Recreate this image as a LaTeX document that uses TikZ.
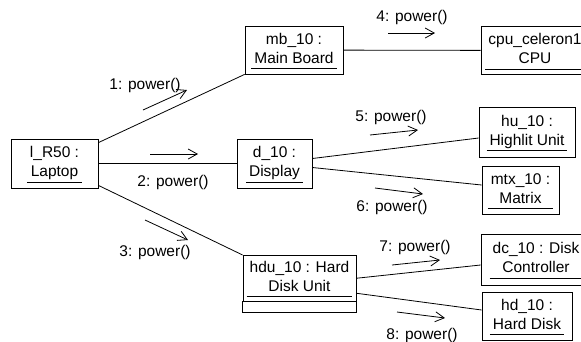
\documentclass[tikz,border=0pt]{standalone}
\usepackage{fontspec}
\setmainfont{Liberation Sans}
\usetikzlibrary{arrows.meta}

\setlength{\arrayrulewidth}{0.7pt}
% object name: two lines, the whole name underlined
\newcommand{\objlabel}[2]{\begin{tabular}{@{\hspace{3pt}}c@{\hspace{3pt}}}#1\\#2\\[-1pt]\hline\end{tabular}}

\begin{document}
\begin{tikzpicture}
		[	x=1pt,y=-1pt,
		every node/.style={font=\fontsize{15.5}{19}\selectfont},
		obj/.style={rectangle,draw=black,line width=0.8pt,inner sep=0pt,align=center},
		link/.style={draw=black,line width=0.8pt},
		msg/.style={-{Straight Barb[length=9pt,width=10pt]},line width=0.8pt},
		lbl/.style={inner sep=0pt}
		]
		\useasboundingbox (0,0) rectangle (581,341);

		\node[obj,minimum width=87pt,minimum height=49pt] (laptop) at (54.5,163.5) {\objlabel{l\_R50 :}{Laptop}};
		\node[obj,minimum width=98pt,minimum height=48pt] (board) at (294,50) {\objlabel{mb\_10 :}{Main Board}};
		\node[obj,minimum width=108pt,minimum height=48pt] (cpu) at (535,50.5) {\objlabel{cpu\_celeron1}{CPU}};
		\node[obj,minimum width=75pt,minimum height=49pt] (display) at (274.5,163.5) {\objlabel{d\_10 :}{Display}};
		\node[obj,minimum width=96pt,minimum height=50pt] (highlit) at (527,132) {\objlabel{hu\_10 :}{Highlit Unit}};
		\node[obj,minimum width=77pt,minimum height=48pt] (matrix) at (520.5,190) {\objlabel{mtx\_10 :}{Matrix}};
		\node[obj,minimum width=113pt,inner ysep=4pt,anchor=north] (hdu) at (299.5,255) {\objlabel{hdu\_10 : Hard}{Disk Unit}};
		\node[obj,minimum width=110pt,minimum height=51pt] (dc) at (536,259.5) {\objlabel{dc\_10 : Disk}{Controller}};
		\node[obj,minimum width=90pt,minimum height=48pt] (hd) at (527,316) {\objlabel{hd\_10 :}{Hard Disk}};
		% empty attribute compartment of the disk unit
		\draw[link] (hdu.south west) rectangle ([yshift=-10.5pt]hdu.south east);

		% links
		\draw[link] ([yshift=-4pt]laptop.north east) -- (board.south west);
		\draw[link] (laptop) -- (display);
		\draw[link] ([yshift=3pt]laptop.south east) -- (hdu.north west);
		\draw[link] (board) -- (cpu);
		\draw[link] ([yshift=5pt]display.east) -- ([yshift=-6pt]highlit.west);
		\draw[link] ([yshift=-4pt]display.east) -- ([yshift=5pt]matrix.west);
		\draw[link] (hdu.east) -- ([yshift=-5.5pt]dc.west);
		\draw[link] ([yshift=-15pt]hdu.east) -- ([yshift=6pt]hd.west);

		% messages
		\coordinate (m1a) at (143,110); \coordinate (m1b) at (187,90);
		\coordinate (m2a) at (150,154); \coordinate (m2b) at (198,154);
		\coordinate (m3a) at (145,220); \coordinate (m3b) at (188,240);
		\coordinate (m4a) at (388,33);  \coordinate (m4b) at (435,33);
		\coordinate (m5a) at (370,135); \coordinate (m5b) at (418,130);
		\coordinate (m6a) at (375,188); \coordinate (m6b) at (423,194);
		\coordinate (m7a) at (392,265); \coordinate (m7b) at (440,260);
		\coordinate (m8a) at (397,312); \coordinate (m8b) at (445,318);
		\foreach \m in {1,...,8} \draw[msg] (m\m a) -- (m\m b);

		\node[lbl] (l1) at (145,85) {1: power()};
		\node[lbl] (l2) at (173,182) {2: power()};
		\node[lbl] (l3) at (155,252) {3: power()};
		\node[lbl] (l4) at (412,17) {4: power()};
		\node[lbl] (l5) at (391,117) {5: power()};
		\node[lbl] (l6) at (392,207) {6: power()};
		\node[lbl] (l7) at (415,247) {7: power()};
		\node[lbl] (l8) at (422,335) {8: power()};
	\end{tikzpicture}
\end{document}
